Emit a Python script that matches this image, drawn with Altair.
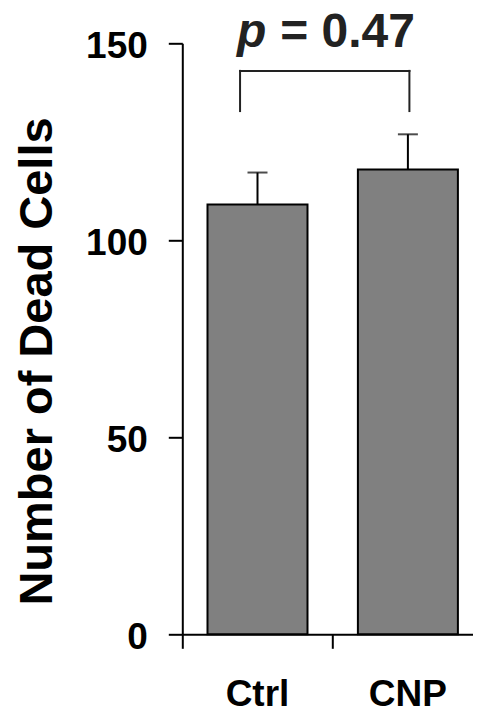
import altair as alt
import pandas as pd

# ---- data ----
groups = ["Ctrl", "CNP"]
positions = [0.5, 1.5]
means = [109.1, 118.0]
sems = [8.1, 8.9]
y_ticks = [0, 50, 100, 150]
p_value_text = "= 0.47"

df = pd.DataFrame({
    "group": groups,
    "pos": positions,
    "mean": means,
    "upper": [m + s for m, s in zip(means, sems)],
})

# bracket geometry (annotation, in data units)
BR_X = [0.384, 1.51]
BR_Y = [132.8, 143.0]
bracket = pd.DataFrame({
    "x1": [BR_X[0], BR_X[0], BR_X[1]],
    "x2": [BR_X[1], BR_X[0], BR_X[1]],
    "y1": [BR_Y[1], BR_Y[0], BR_Y[0]],
    "y2": [BR_Y[1], BR_Y[1], BR_Y[1]],
})

# p-value annotation (one row only)
annot = pd.DataFrame({"p": ["p"], "rest": [p_value_text]})

FONT = "Liberation Sans"
STEP = 150.4
W, H = 290.5, 591
TOP, LEFT, BOTTOM = 35.3, 174.3, 73

xscale = alt.Scale(domain=[0, W / STEP], nice=False, zero=False, padding=0)
yscale = alt.Scale(domain=[0, 150], nice=False, padding=0)

base = alt.Chart(df)

bars = base.mark_bar(size=100, color="#808080", stroke="black", strokeWidth=2).encode(
    x=alt.X("pos:Q", scale=xscale,
            axis=alt.Axis(values=[0, 1], labels=False, title=None, grid=False,
                          tickSize=14, tickWidth=2, tickColor="black",
                          domainWidth=2, domainColor="black")),
    y=alt.Y("mean:Q", scale=yscale,
            axis=alt.Axis(values=y_ticks, grid=False, title="Number of Dead Cells",
                          tickSize=14, tickWidth=2, tickColor="black",
                          domainWidth=2, domainColor="black",
                          labelFont=FONT, labelFontSize=37, labelFontWeight="bold",
                          labelColor="black", labelPadding=21, labelOffset=3,
                          titleFont=FONT, titleFontSize=47, titleFontWeight="bold",
                          titleColor="black", titleAngle=270, titleAlign="center",
                          titleBaseline="alphabetic", titleX=-130.6, titleY=317.7)),
)

stems = base.mark_rule(strokeWidth=2, color="black").encode(
    x="pos:Q", y="mean:Q", y2="upper:Q")

caps = base.mark_tick(orient="horizontal", size=20, thickness=2, color="black").encode(
    x="pos:Q", y="upper:Q")

br = alt.Chart(bracket).mark_rule(strokeWidth=2, color="#222222", strokeCap="square").encode(
    x="x1:Q", x2="x2:Q", y="y1:Q", y2="y2:Q")

p_italic = alt.Chart(annot).mark_text(
    font=FONT, fontSize=48, fontWeight="bold", fontStyle="italic",
    align="left", baseline="alphabetic", color="#222222").encode(
    x=alt.datum(0.363), y=alt.datum(149.1), text="p:N")

p_rest = alt.Chart(annot).mark_text(
    font=FONT, fontSize=48, fontWeight="bold",
    align="right", baseline="alphabetic", color="#222222").encode(
    x=alt.datum(1.547), y=alt.datum(149.1), text="rest:N")

xlabels = base.mark_text(font=FONT, fontSize=37, fontWeight="bold", color="black",
                         align="center", baseline="alphabetic").encode(
    x="pos:Q", y=alt.value(H + BOTTOM - 1), text="group:N")

chart = alt.layer(bars, stems, caps, br, p_italic, p_rest, xlabels).properties(
    width=W, height=H,
    background="white",
    autosize=alt.AutoSizeParams(type="none"),
    padding={"left": LEFT, "top": TOP, "right": 0, "bottom": BOTTOM},
).configure_view(stroke=None).configure_axis(grid=False)

chart.save("out.html", embed_options={"renderer": "svg", "actions": False})
